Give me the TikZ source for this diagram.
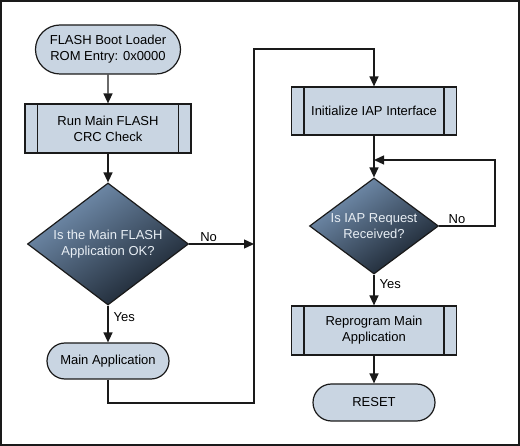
\documentclass[tikz,border=0pt]{standalone}
\usepackage{fontspec}
\setmainfont{Liberation Sans}
\usetikzlibrary{shapes.geometric,shapes.misc,arrows.meta}
\definecolor{boxfill}{HTML}{C9D5E2}
\definecolor{edge}{HTML}{1A1A1A}
\definecolor{dtop}{HTML}{7895B6}
\definecolor{dbot}{HTML}{18212C}
\definecolor{dtext}{HTML}{E8EEF4}
\tikzset{
  base/.style={draw=edge, line width=1.2pt, font=\fontsize{13}{16}\selectfont, align=center, inner sep=0pt},
  term/.style={base, rounded rectangle, fill=boxfill},
  proc/.style={base, rectangle, fill=boxfill, minimum width=166pt, minimum height=49pt,
    path picture={\draw[edge, line width=1.2pt]
      ([xshift=12.5pt]path picture bounding box.north west) -- ([xshift=12.5pt]path picture bounding box.south west)
      ([xshift=-12.5pt]path picture bounding box.north east) -- ([xshift=-12.5pt]path picture bounding box.south east);}},
  decision/.style={base, diamond, top color=dtop, bottom color=dbot, shading angle=35, text=dtext},
  arr/.style={draw=edge, line width=1.3pt, -{Triangle[length=10pt,width=9pt]}},
  lbl/.style={font=\fontsize{13}{16}\selectfont, inner sep=1pt}
}
\begin{document}
\begin{tikzpicture}[x=1pt,y=-1pt]
\useasboundingbox (0,0) rectangle (520,446);
\draw[edge, line width=1.5pt] (1,1) rectangle (519,445);

\node[term, minimum width=145pt, minimum height=49pt] (start) at (108,49.5) {FLASH Boot Loader\\ROM Entry: 0x0000};
\node[proc] (crc) at (108,128.5) {Run Main FLASH\\CRC Check};
\node[decision, minimum width=161pt, minimum height=122pt] (d1) at (108,244) {\makebox[0pt]{Is the Main FLASH}\\\makebox[0pt]{Application OK?}};
\node[term, minimum width=122pt, minimum height=36pt] (mainapp) at (108,361) {Main Application};

\node[proc, minimum width=165pt, minimum height=48pt] (init) at (374,111) {Initialize IAP Interface};
\node[decision, minimum width=129pt, minimum height=96pt] (d2) at (374,226) {\makebox[0pt]{Is IAP Request}\\\makebox[0pt]{Received?}};
\node[proc, minimum width=165pt] (reprog) at (374,330.5) {Reprogram Main\\Application};
\node[term, minimum width=122pt, minimum height=37pt] (reset) at (374,402.5) {RESET};

\coordinate (j1) at (254,244);
\coordinate (c1) at (254,403);
\coordinate (c2) at (254,49);
\coordinate (c3) at (495,160);
\coordinate (c4) at (374,160);

\draw[arr] (start) -- (crc);
\draw[arr] (crc) -- (d1);
\draw[arr] (d1.south) -- node[lbl, pos=0.3, anchor=west, xshift=4pt] {Yes} (mainapp.north);
\draw[arr] (d1.east) -- node[lbl, pos=0.3, anchor=south, yshift=1pt] {No} (j1);
\draw[arr] (mainapp.south) |- (c1) -- (c2) -| (init.north);
\draw[arr] (init) -- (d2);
\draw[arr] (d2.east) -| node[lbl, pos=0.16, anchor=south, yshift=1pt] {No} (c3) -- (c4);
\draw[arr] (d2.south) -- node[lbl, pos=0.3, anchor=west, xshift=4pt] {Yes} (reprog.north);
\draw[arr] (reprog) -- (reset);
\end{tikzpicture}
\end{document}
